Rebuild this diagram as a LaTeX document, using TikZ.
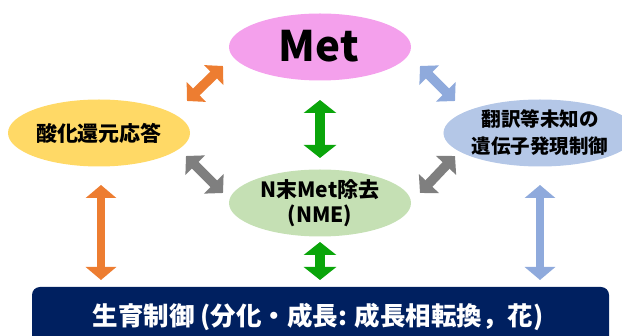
\documentclass[tikz,border=0pt]{standalone}
\usepackage{fontspec}
\newfontfamily\jp{Noto Sans CJK JP}
\usetikzlibrary{shapes.geometric,arrows.meta}
\definecolor{cpink}{HTML}{F4A0EC}
\definecolor{cyellow}{HTML}{FFD966}
\definecolor{cblue}{HTML}{B4C7E7}
\definecolor{cgreenl}{HTML}{C5E0B4}
\definecolor{cnavy}{HTML}{002060}
\definecolor{corange}{HTML}{ED7D31}
\definecolor{cbluea}{HTML}{8FAADC}
\definecolor{cgray}{HTML}{7F7F7F}
\definecolor{cgreen}{HTML}{0AA50A}
\tikzset{
  oval/.style={ellipse, minimum width=182pt, minimum height=67pt, inner sep=0pt, align=center},
  bigdbl/.style={line width=10pt, {Triangle[width=32pt,length=13pt]}-{Triangle[width=32pt,length=13pt]}},
  vdbl/.style={line width=8pt, {Triangle[width=30pt,length=13pt]}-{Triangle[width=30pt,length=13pt]}},
  diagdbl/.style={line width=9.5pt, {Triangle[width=27pt,length=13pt]}-{Triangle[width=27pt,length=13pt]}}
}
\begin{document}
\begin{tikzpicture}[x=1pt,y=-1pt]
\useasboundingbox (0,0) rectangle (622,336);
\clip (0,0) rectangle (622,336);
\node[oval, fill=cpink] (met) at (320,47) {};
\node[font=\jp\bfseries\fontsize{42}{46}\selectfont, inner sep=0pt] (mettext) at (319,46) {Met};
\node[oval, fill=cyellow, font=\jp\bfseries\fontsize{21}{26}\selectfont] (redox) at (99,133) {酸化還元応答};
\node[oval, fill=cblue, minimum width=178pt, font=\jp\bfseries\fontsize{19.5}{27}\selectfont] (trans) at (540,133) {翻訳等未知の\\遺伝子発現制御};
\node[oval, fill=cgreenl, font=\jp\bfseries\fontsize{21}{25}\selectfont] (nme) at (320,203) {N末Met除去\\(NME)};
\node[fill=cnavy, rounded corners=8pt, minimum width=577pt, minimum height=70pt, inner sep=0pt] (growth) at (320.5,322) {};
\node[text=white, font=\jp\bfseries\fontsize{25.5}{28}\selectfont, inner sep=0pt] (growthtext) at (318,317) {生育制御 (分化・成長: 成長相転換，花)};
% arrow endpoints
\coordinate (a1) at (187,101); \coordinate (a2) at (223,66);
\coordinate (b1) at (420,66); \coordinate (b2) at (455,101);
\coordinate (c1) at (186,156); \coordinate (c2) at (223,193);
\coordinate (d1) at (420,193); \coordinate (d2) at (455,156);
\coordinate (e1) at (320,100); \coordinate (e2) at (320,158);
\coordinate (f1) at (320,242); \coordinate (f2) at (320,280);
\coordinate (g1) at (101,185); \coordinate (g2) at (101,280);
\coordinate (h1) at (540,185); \coordinate (h2) at (540,280);
\draw[diagdbl, corange] (a1) -- (a2);
\draw[diagdbl, cbluea] (b1) -- (b2);
\draw[diagdbl, cgray] (c1) -- (c2);
\draw[diagdbl, cgray] (d1) -- (d2);
\draw[bigdbl, cgreen] (e1) -- (e2);
\draw[bigdbl, cgreen] (f1) -- (f2);
\draw[vdbl, corange] (g1) -- (g2);
\draw[vdbl, cbluea] (h1) -- (h2);
\end{tikzpicture}
\end{document}
